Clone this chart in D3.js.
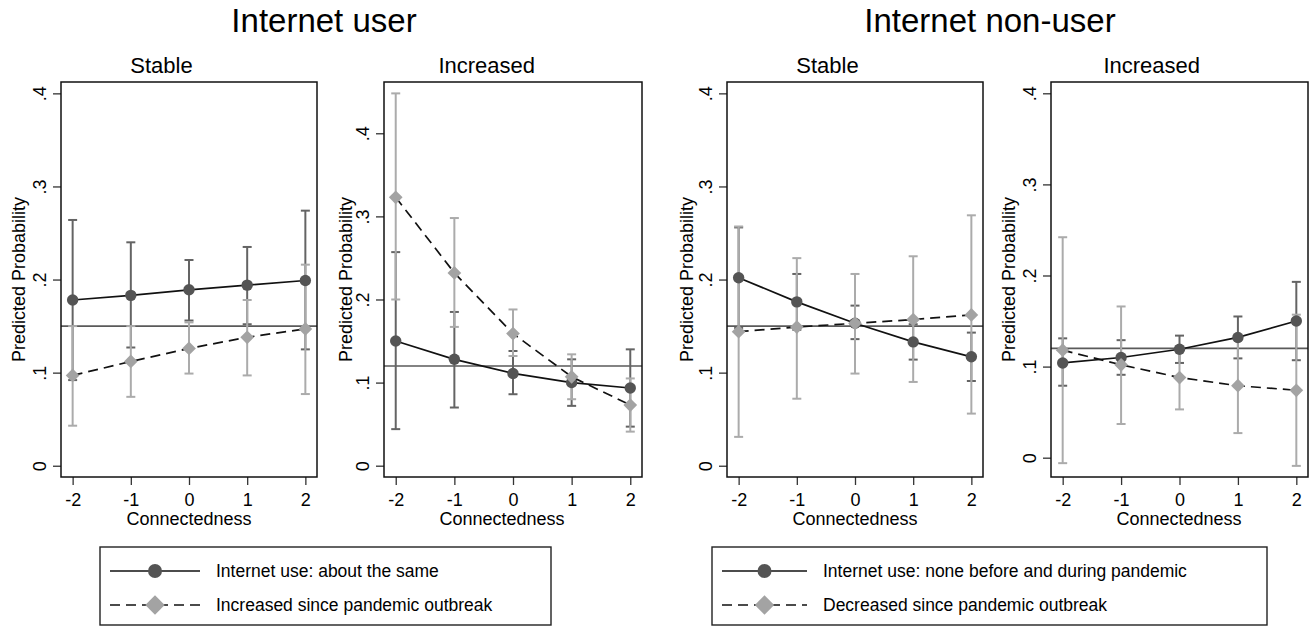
<!DOCTYPE html>
<html><head><meta charset="utf-8">
<script src="https://cdn.jsdelivr.net/npm/d3@7"></script>
<style>
body{margin:0;background:#fff}
svg{display:block}
text{font-family:"Liberation Sans",Arial,sans-serif;fill:#000}
</style>
</head><body>
<svg id="c" width="1311" height="627"></svg>
<script>
// ---------- data ----------
const xValues = [-2, -1, 0, 1, 2];
const xTickLabels = ["-2", "-1", "0", "1", "2"];
const yTickValues = [0, 0.1, 0.2, 0.3, 0.4];
const yTickLabels = ["0", ".1", ".2", ".3", ".4"];
const groupTitles = ["Internet user", "Internet non-user"];
const panelTitles = ["Stable", "Increased", "Stable", "Increased"];
const xAxisTitle = "Connectedness";
const yAxisTitle = "Predicted Probability";
const legendUser = ["Internet use: about the same", "Increased since pandemic outbreak"];
const legendNonUser = ["Internet use: none before and during pandemic", "Decreased since pandemic outbreak"];
const refLines = [0.15, 0.12, 0.15, 0.12];

// Panel 1: Internet user, Stable
const userStableSolid   = [0.178, 0.183, 0.189, 0.194, 0.199];
const userStableSolidLo = [0.092, 0.127, 0.156, 0.152, 0.125];
const userStableSolidHi = [0.264, 0.240, 0.221, 0.235, 0.274];
const userStableDash    = [0.097, 0.112, 0.126, 0.138, 0.147];
const userStableDashLo  = [0.043, 0.074, 0.099, 0.097, 0.077];
const userStableDashHi  = [0.150, 0.150, 0.154, 0.178, 0.216];
// Panel 2: Internet user, Increased
const userIncSolid   = [0.150, 0.128, 0.111, 0.100, 0.0935];
const userIncSolidLo = [0.044, 0.070, 0.086, 0.072, 0.047];
const userIncSolidHi = [0.257, 0.185, 0.138, 0.128, 0.140];
const userIncDash    = [0.323, 0.232, 0.159, 0.107, 0.073];
const userIncDashLo  = [0.200, 0.167, 0.132, 0.080, 0.041];
const userIncDashHi  = [0.448, 0.298, 0.188, 0.134, 0.105];
// Panel 3: Internet non-user, Stable
const nonStableSolid   = [0.202, 0.176, 0.153, 0.133, 0.117];
const nonStableSolidLo = [0.148, 0.146, 0.136, 0.114, 0.091];
const nonStableSolidHi = [0.256, 0.206, 0.172, 0.152, 0.143];
const nonStableDash    = [0.144, 0.149, 0.153, 0.157, 0.162];
const nonStableDashLo  = [0.031, 0.072, 0.099, 0.090, 0.056];
const nonStableDashHi  = [0.257, 0.223, 0.206, 0.225, 0.269];
// Panel 4: Internet non-user, Increased
const nonIncSolid   = [0.104, 0.110, 0.119, 0.132, 0.150];
const nonIncSolidLo = [0.079, 0.091, 0.104, 0.109, 0.107];
const nonIncSolidHi = [0.131, 0.129, 0.134, 0.155, 0.193];
const nonIncDash    = [0.118, 0.102, 0.088, 0.079, 0.074];
const nonIncDashLo  = [-0.006, 0.037, 0.053, 0.027, -0.009];
const nonIncDashHi  = [0.242, 0.166, 0.122, 0.131, 0.157];

const panelSeries = [
  {solid: userStableSolid, solidLo: userStableSolidLo, solidHi: userStableSolidHi, dash: userStableDash, dashLo: userStableDashLo, dashHi: userStableDashHi},
  {solid: userIncSolid, solidLo: userIncSolidLo, solidHi: userIncSolidHi, dash: userIncDash, dashLo: userIncDashLo, dashHi: userIncDashHi},
  {solid: nonStableSolid, solidLo: nonStableSolidLo, solidHi: nonStableSolidHi, dash: nonStableDash, dashLo: nonStableDashLo, dashHi: nonStableDashHi},
  {solid: nonIncSolid, solidLo: nonIncSolidLo, solidHi: nonIncSolidHi, dash: nonIncDash, dashLo: nonIncDashLo, dashHi: nonIncDashHi}
];

// ---------- layout ----------
const plotTop = 82, plotBottom = 477;
const layout = [
  {x0: 61,   x1: 317,  yDom: [-0.0121, 0.4122], titleX: 161.5, xTitleX: 189, yTitleOff: 36},
  {x0: 384,  x1: 642,  yDom: [-0.0136, 0.4617], titleX: 486.7, xTitleX: 502, yTitleOff: 32},
  {x0: 727,  x1: 983,  yDom: [-0.0121, 0.4122], titleX: 827.5, xTitleX: 855, yTitleOff: 34},
  {x0: 1051, x1: 1308, yDom: [-0.0212, 0.4124], titleX: 1151.7, xTitleX: 1179, yTitleOff: 36}
];
const DARK = "#545454", DARK_CI = "#646464", LIGHT = "#a3a3a3", LIGHT_CI = "#ababab";

const svg = d3.select("#c");

// group titles
const groupCenters = [324, 990];
groupTitles.forEach((t, i) => {
  svg.append("text").attr("x", groupCenters[i]).attr("y", 32)
    .attr("text-anchor", "middle").attr("font-size", 33).text(t);
});

layout.forEach((L, pi) => {
  const S = panelSeries[pi];
  const x = d3.scaleLinear().domain([-2.2, 2.2]).range([L.x0, L.x1]);
  const y = d3.scaleLinear().domain(L.yDom).range([plotBottom, plotTop]);
  const g = svg.append("g");

  // subtitle
  g.append("text").attr("x", L.titleX).attr("y", 73).attr("text-anchor", "middle")
    .attr("font-size", 22).text(panelTitles[pi]);

  // reference line
  g.append("line").attr("x1", L.x0).attr("x2", L.x1)
    .attr("y1", y(refLines[pi])).attr("y2", y(refLines[pi]))
    .attr("stroke", "#5a5a5a").attr("stroke-width", 1.6);

  // axes
  const yAxis = d3.axisLeft(y).tickValues(yTickValues).tickFormat((d, i) => yTickLabels[i]).tickSize(8).tickPadding(0);
  const ya = g.append("g").attr("transform", `translate(${L.x0},0)`).call(yAxis);
  ya.select(".domain").remove();
  ya.selectAll(".tick line").attr("stroke", "#333").attr("stroke-width", 1.3);
  ya.selectAll(".tick text").attr("font-size", 18).attr("font-family", '"Liberation Sans",Arial,sans-serif')
    .attr("fill", "#000").attr("text-anchor", "middle").attr("dy", 0).attr("x", 0)
    .attr("transform", "translate(-15,0) rotate(-90)");

  const xAxis = d3.axisBottom(x).tickValues(xValues).tickFormat((d, i) => xTickLabels[i]).tickSize(8).tickPadding(0);
  const xa = g.append("g").attr("transform", `translate(0,${plotBottom})`).call(xAxis);
  xa.select(".domain").remove();
  xa.selectAll(".tick line").attr("stroke", "#333").attr("stroke-width", 1.3);
  xa.selectAll(".tick text").attr("font-size", 18).attr("font-family", '"Liberation Sans",Arial,sans-serif')
    .attr("fill", "#000").attr("dy", 0).attr("y", 29);

  // axis titles
  g.append("text").attr("x", L.xTitleX).attr("y", 525).attr("text-anchor", "middle")
    .attr("font-size", 18).text(xAxisTitle);
  g.append("text").attr("transform", `translate(${L.x0 - L.yTitleOff},${(plotTop + plotBottom) / 2}) rotate(-90)`)
    .attr("text-anchor", "middle").attr("font-size", 18).text(yAxisTitle);

  // CIs
  function ci(lo, hi, color) {
    const cg = g.append("g").attr("stroke", color).attr("stroke-width", 2).attr("fill", "none");
    xValues.forEach((xv, i) => {
      const cx = x(xv);
      cg.append("line").attr("x1", cx).attr("x2", cx).attr("y1", y(lo[i])).attr("y2", y(hi[i]));
      cg.append("line").attr("x1", cx - 4.5).attr("x2", cx + 4.5).attr("y1", y(lo[i])).attr("y2", y(lo[i]));
      cg.append("line").attr("x1", cx - 4.5).attr("x2", cx + 4.5).attr("y1", y(hi[i])).attr("y2", y(hi[i]));
    });
  }
  ci(S.solidLo, S.solidHi, DARK_CI);
  ci(S.dashLo, S.dashHi, LIGHT_CI);

  const line = d3.line().x((d, i) => x(xValues[i])).y(d => y(d));
  g.append("path").datum(S.solid).attr("d", line).attr("fill", "none")
    .attr("stroke", "#111").attr("stroke-width", 1.7);
  g.selectAll(null).data(S.solid).enter().append("circle")
    .attr("cx", (d, i) => x(xValues[i])).attr("cy", d => y(d)).attr("r", 5.7).attr("fill", DARK);

  g.append("path").datum(S.dash).attr("d", line).attr("fill", "none")
    .attr("stroke", "#111").attr("stroke-width", 1.7).attr("stroke-dasharray", "10,6");
  const dsym = d3.symbol().type(d3.symbolDiamond2).size(120);
  g.selectAll(null).data(S.dash).enter().append("path")
    .attr("d", dsym).attr("transform", (d, i) => `translate(${x(xValues[i])},${y(d)})`).attr("fill", LIGHT);

  // frame
  g.append("rect").attr("x", L.x0).attr("y", plotTop).attr("width", L.x1 - L.x0).attr("height", plotBottom - plotTop)
    .attr("fill", "none").attr("stroke", "#111").attr("stroke-width", 1.5);
});

// legends
const legends = [
  {box: [100, 547, 551, 625], line: [110, 200], text: 216, labels: legendUser},
  {box: [712, 547, 1267, 625], line: [722, 807], text: 823, labels: legendNonUser}
];
legends.forEach(Lg => {
  const g = svg.append("g");
  g.append("rect").attr("x", Lg.box[0]).attr("y", Lg.box[1]).attr("width", Lg.box[2] - Lg.box[0])
    .attr("height", Lg.box[3] - Lg.box[1]).attr("fill", "none").attr("stroke", "#222").attr("stroke-width", 1.4);
  const cx = (Lg.line[0] + Lg.line[1]) / 2;
  const rows = [571, 605];
  g.append("line").attr("x1", Lg.line[0]).attr("x2", Lg.line[1]).attr("y1", rows[0]).attr("y2", rows[0])
    .attr("stroke", "#111").attr("stroke-width", 1.7);
  g.append("circle").attr("cx", cx).attr("cy", rows[0]).attr("r", 7).attr("fill", DARK);
  g.append("line").attr("x1", Lg.line[0]).attr("x2", Lg.line[1]).attr("y1", rows[1]).attr("y2", rows[1])
    .attr("stroke", "#111").attr("stroke-width", 1.7).attr("stroke-dasharray", "10,6");
  g.append("path").attr("d", d3.symbol().type(d3.symbolDiamond2).size(240)())
    .attr("transform", `translate(${cx},${rows[1]})`).attr("fill", LIGHT);
  Lg.labels.forEach((t, i) => {
    g.append("text").attr("x", Lg.text).attr("y", rows[i] + 6).attr("font-size", 17.5).text(t);
  });
});
</script>
</body></html>
